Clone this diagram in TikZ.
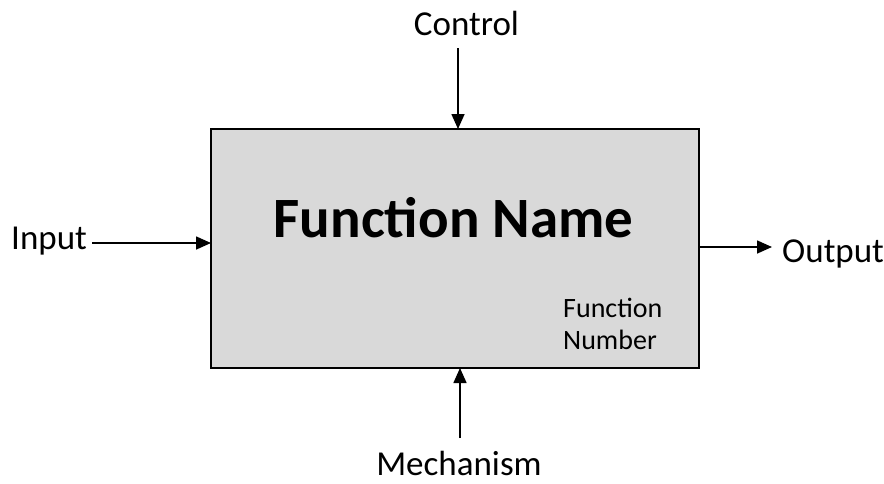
\documentclass[tikz,border=0pt]{standalone}
\usepackage{fontspec}
\setmainfont{Carlito}
\usetikzlibrary{arrows.meta}
\definecolor{boxgray}{HTML}{D9D9D9}
\tikzset{
  lbl/.style={font=\fontsize{35}{40}\selectfont, inner sep=0pt},
  flow/.style={draw=black, line width=1.6pt, -{Triangle[length=15pt,width=13pt]}},
  funcbox/.style={draw=black, line width=2pt, fill=boxgray}
}
\begin{document}
\begin{tikzpicture}[x=1pt,y=-1pt]
\useasboundingbox (0,0) rectangle (884,483);
\node[funcbox, minimum width=488pt, minimum height=239pt, inner sep=0pt] (box) at (455,248.5) {};
\node[font=\bfseries\fontsize{57}{62}\selectfont, inner sep=0pt, anchor=base] (fname) at (453.5,237) {Function Name};
\node[font=\fontsize{28}{31}\selectfont, inner sep=0pt, anchor=base west] (fnum) at (563,317) {Function};
\node[font=\fontsize{28}{31}\selectfont, inner sep=0pt, anchor=base west] (fnum2) at (563,349) {Number};
\node[lbl, anchor=base] (control) at (466.5,35) {Control};
\node[lbl, anchor=base west] (input) at (11,249) {Input};
\node[lbl, anchor=base west] (output) at (782,262) {Output};
\node[lbl, anchor=base] (mech) at (459,475) {Mechanism};
\coordinate (cs) at (458,48);
\coordinate (ce) at (458,129);
\coordinate (is) at (92,243);
\coordinate (ie) at (211,243);
\coordinate (os) at (700,247);
\coordinate (oe) at (772,247);
\coordinate (ms) at (460,438);
\coordinate (me) at (460,368);
\draw[flow] (cs) -- (ce);
\draw[flow] (is) -- (ie);
\draw[flow] (os) -- (oe);
\draw[flow] (ms) -- (me);
\end{tikzpicture}
\end{document}
